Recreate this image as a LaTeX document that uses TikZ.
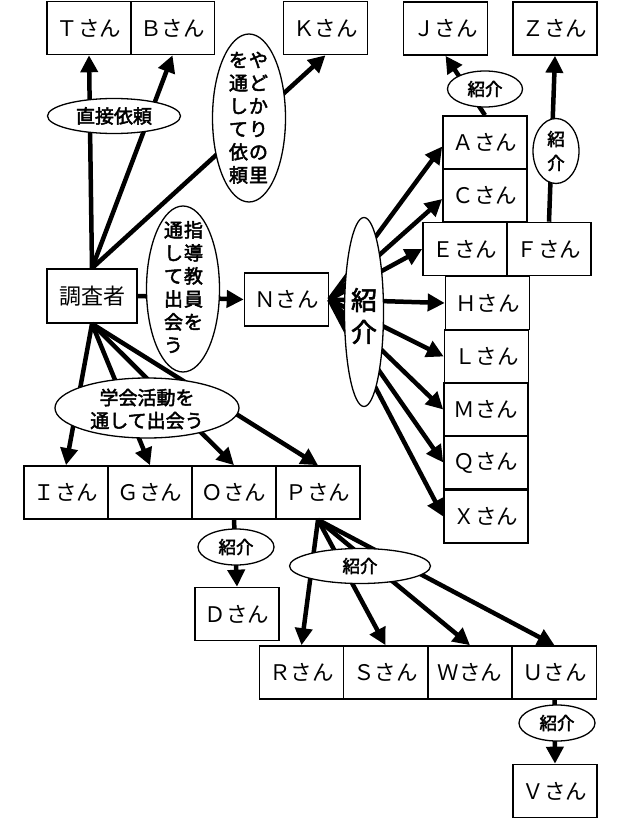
\documentclass[tikz,border=0pt]{standalone}
\usepackage{fontspec}
\setmainfont{Noto Sans CJK JP}
\newfontfamily\tagfont[FakeBold=2.5]{Noto Sans CJK JP}
\usetikzlibrary{shapes.geometric,arrows.meta}
\begin{document}
\begin{tikzpicture}[x=1pt,y=-1pt,
  person/.style={draw,line width=1.6pt,minimum width=84pt,minimum height=53pt,
    inner sep=0pt,font=\fontsize{21.5}{24}\selectfont},
  arr/.style={line width=4.5pt,-{Triangle[length=17pt,width=17pt]}},
  tag/.style={ellipse,draw,fill=white,line width=1.3pt,inner sep=0pt},
  lbl/.style={inner sep=0pt,align=center,font=\tagfont\fontsize{19}{23}\selectfont},
  vlbl/.style={inner sep=0pt,font=\tagfont\fontsize{19}{23}\selectfont},
  small/.style={lbl,font=\tagfont\fontsize{17.5}{21}\selectfont},
]
\useasboundingbox (0,0) rectangle (621,819);

% people
\node[person] (T) at (89,28) {Ｔさん};
\node[person] (B) at (172.5,28) {Ｂさん};
\node[person] (K) at (325.5,28) {Ｋさん};
\node[person] (J) at (445.5,28.5) {Ｊさん};
\node[person] (Z) at (555,28.5) {Ｚさん};
\node[person] (A) at (485,142.5) {Ａさん};
\node[person] (C) at (485,195) {Ｃさん};
\node[person] (E) at (465,249) {Ｅさん};
\node[person] (F) at (549,249) {Ｆさん};
\node[person] (H) at (487.5,303) {Ｈさん};
\node[person] (L) at (486.5,356.5) {Ｌさん};
\node[person] (M) at (486,409.5) {Ｍさん};
\node[person] (Q) at (486,462.5) {Ｑさん};
\node[person] (X) at (486,516.5) {Ｘさん};
\node[person,minimum width=90pt,minimum height=54pt,font=\fontsize{22}{24}\selectfont] (me) at (92,296) {調査者};
\node[person] (N) at (286.5,299.5) {Ｎさん};
\node[person] (I) at (66,492.5) {Ｉさん};
\node[person] (G) at (150,492.5) {Ｇさん};
\node[person] (O) at (234,492.5) {Ｏさん};
\node[person] (P) at (318,492.5) {Ｐさん};
\node[person] (D) at (237,614) {Ｄさん};
\node[person] (R) at (301.5,672.5) {Ｒさん};
\node[person] (S) at (385.5,672.5) {Ｓさん};
\node[person] (W) at (470,672.5) {Ｗさん};
\node[person] (U) at (554.5,672.5) {Ｕさん};
\node[person] (V) at (555,791) {Ｖさん};

% connections
\draw[arr] (me.north) -- (T.south);
\draw[arr] (me.north) -- (B.south);
\draw[arr] (me.north) -- (K.south);
\draw[arr] (me.east) -- (N.west);
\draw[arr] (N.east) -- ([yshift=-4pt]A.west);
\draw[arr] (N.east) -- ([yshift=-4pt]C.west);
\draw[arr] (N.east) -- (E.west);
\draw[arr] (N.east) -- (H.west);
\draw[arr] (N.east) -- (L.west);
\draw[arr] (N.east) -- (M.west);
\draw[arr] (N.east) -- (Q.west);
\draw[arr] (N.east) -- (X.west);
\draw[arr] (A.north) -- (J.south);
\draw[arr] (F.north) -- (Z.south);
\draw[arr] (me.south) -- (I.north);
\draw[arr] (me.south) -- (G.north);
\draw[arr] (me.south) -- (O.north);
\draw[arr] (me.south) -- (P.north);
\draw[arr] (O.south) -- (D.north);
\draw[arr] (P.south) -- (R.north);
\draw[arr] (P.south) -- (S.north);
\draw[arr] (P.south) -- (W.north);
\draw[arr] (P.south) -- (U.north);
\draw[arr] (U.south) -- (V.north);

% route labels
\node[tag,minimum width=133pt,minimum height=35pt] (direct) at (114,116) {};
\node[lbl] (directT) at (direct) {直接依頼};

\node[tag,minimum width=73pt,minimum height=168pt] (yado) at (249,118) {};
\node[vlbl] (yadoT) at (248.5,120) {\begin{tabular}{@{}c@{\hspace{1pt}}c@{}}を&や\\通&ど\\し&か\\て&り\\依&の\\頼&里\end{tabular}};

\node[tag,minimum width=73pt,minimum height=166pt] (teacher) at (183,289) {};
\node[vlbl] (teacherT) at (183.5,290) {\begin{tabular}{@{}c@{\hspace{1pt}}c@{}}通&指\\し&導\\て&教\\出&員\\会&を\\う&\end{tabular}};

\node[tag,minimum width=39pt,minimum height=189pt] (intro) at (364,312) {};
\node[inner sep=0pt,align=center,font=\tagfont\fontsize{26}{32}\selectfont] (introT) at (364,316) {紹\\介};

\node[tag,minimum width=184pt,minimum height=60pt] (society) at (147,408) {};
\node[lbl] (societyT) at (147,409) {学会活動を\\通して出会う};

\node[tag,minimum width=75pt,minimum height=36pt] (iAJ) at (485,89) {};
\node[small] (iAJT) at (iAJ) {紹介};

\node[tag,minimum width=46pt,minimum height=65pt] (iFZ) at (556,151) {};
\node[small,font=\tagfont\fontsize{17.5}{24}\selectfont] (iFZT) at (iFZ) {紹\\介};

\node[tag,minimum width=76pt,minimum height=36pt] (iOD) at (236,547) {};
\node[small] (iODT) at (iOD) {紹介};

\node[tag,minimum width=141pt,minimum height=35pt] (iP) at (360,566) {};
\node[small] (iPT) at (iP) {紹介};

\node[tag,minimum width=76pt,minimum height=36pt] (iUV) at (557,723) {};
\node[small] (iUVT) at (iUV) {紹介};
\end{tikzpicture}
\end{document}
